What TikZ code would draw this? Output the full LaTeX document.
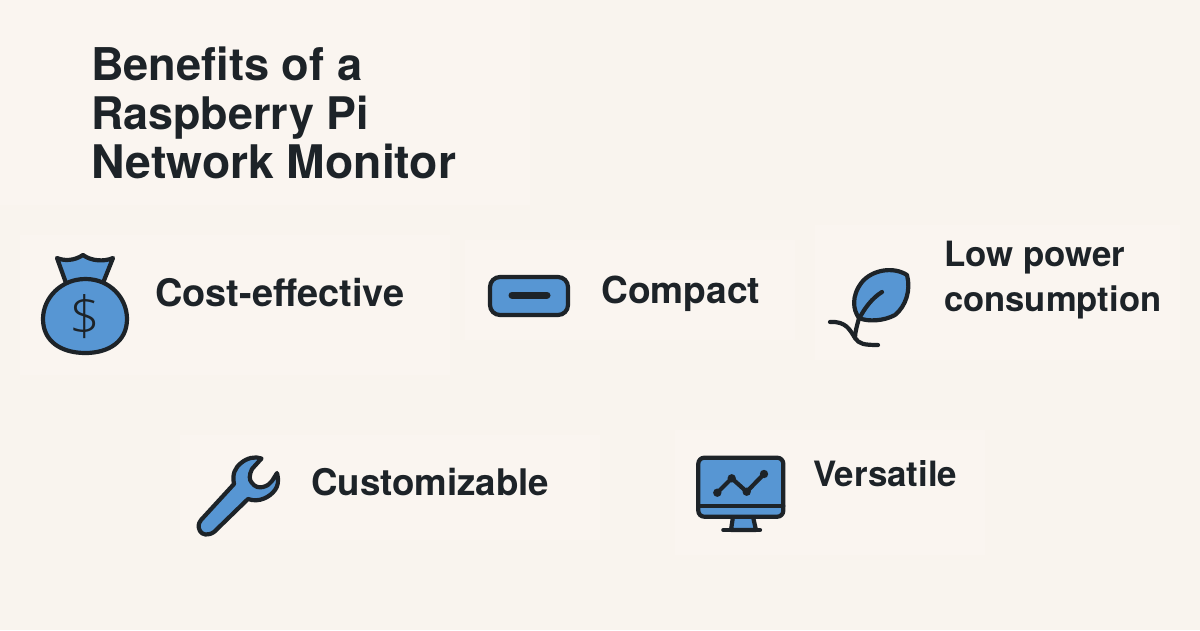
\documentclass[tikz,border=0pt]{standalone}
\usepackage{fontspec}
\setmainfont{TeX Gyre Heros}[BoldFont=* Bold]
\definecolor{bg}{HTML}{F9F4EE}
\definecolor{patch}{HTML}{FAF5F0}
\definecolor{ink}{HTML}{1D2328}
\definecolor{blue}{HTML}{5796D3}
\newcommand{\fitw}[2]{\resizebox{#1pt}{!}{\bfseries #2}}
\tikzset{
  titletext/.style={inner sep=0pt,anchor=base west,text=ink,font=\fontsize{46}{48}\selectfont},
  label/.style={inner sep=0pt,anchor=base west,text=ink,font=\fontsize{37}{44}\selectfont},
  icon/.style={draw=ink,fill=blue,line width=4.2pt,line join=round,line cap=round},
  stroke/.style={draw=ink,line width=4.2pt,line join=round,line cap=round},
}
\begin{document}
\begin{tikzpicture}[x=1pt,y=-1pt]
\useasboundingbox (0,0) rectangle (1200,630);
\fill[bg] (0,0) rectangle (1200,630);
% faint lighter patches
\fill[patch] (0,0) rectangle (530,205);
\fill[patch] (20,235) rectangle (450,375);
\fill[patch] (465,240) rectangle (795,340);
\fill[patch] (815,225) rectangle (1180,360);
\fill[patch] (180,435) rectangle (600,540);
\fill[patch] (675,430) rectangle (985,555);
% title
\node[titletext] (t1) at (91,80) {\fitw{271}{Benefits of a}};
\node[titletext] (t2) at (91,129) {\fitw{278}{Raspberry Pi}};
\node[titletext] (t3) at (91,178) {\fitw{365}{Network Monitor}};
% money bag
\path[icon] (57,258) .. controls (64,261) and (74,261) .. (83,255) .. controls (91,261) and (104,262) .. (113,258) -- (103,283) -- (66,283) -- cycle;
\path[icon] (85.5,279) .. controls (110,279) and (127,298) .. (127,319) .. controls (127,342) and (108,353) .. (85.5,353) .. controls (62,353) and (43,342) .. (43,319) .. controls (43,298) and (61,279) .. (85.5,279) -- cycle;
\node[inner sep=0pt,text=ink,font=\fontsize{54}{54}\selectfont\fontspec{Open Sans Light}] (dollar) at (85,317) {\$};
% compact
\path[icon,rounded corners=10pt] (490,277) rectangle (568,315);
\draw[draw=ink,line width=7pt,line cap=round] (512,295) -- (547,295);
% leaf
\path[icon] (859,318) .. controls (853,310) and (851,296) .. (862,282) .. controls (872,270) and (893,266) .. (907,275) .. controls (911,290) and (906,306) .. (895,315) .. controls (884,321) and (868,322) .. (859,318) -- cycle;
\path[stroke] (859,319) .. controls (864,309) and (872,298) .. (882,292);
\path[stroke] (859,318) .. controls (857,326) and (855,332) .. (855,338);
\path[stroke] (830,322) .. controls (846,321) and (850,330) .. (855,338) .. controls (859,344) and (864,345) .. (878,345);
% wrench
\path[icon] (201,520) -- (234,484) .. controls (232,474) and (235,468) .. (241,463) .. controls (247,458) and (255,456) .. (261.5,458.5) -- (252,469) .. controls (249,475) and (249,480) .. (252,483) .. controls (255,487) and (259,488) .. (263,487) .. controls (267,486) and (270,484) .. (272,481) -- (277,473) .. controls (279,481) and (278,486) .. (275,490) .. controls (270,497) and (259,503) .. (248,499) -- (214,532) .. controls (208,536) and (202,535) .. (200,531) .. controls (198,527) and (198,524) .. (201,520) -- cycle;
% monitor
\path[icon,fill=blue] (733,516.7) -- (731,530) -- (756,530) -- (753,516.7) -- cycle;
\path[stroke] (723.3,530) -- (760,530);
\path[icon,rounded corners=6pt] (698.3,457.7) rectangle (783.3,516.7);
\path[stroke] (698.3,505.7) -- (783.3,505.7);
\path[stroke] (717.3,492.7) -- (731.7,478.3) -- (746.7,491.7) -- (764,474);
\fill[ink] (717.3,492.7) circle (4.2) (731.7,478.3) circle (4.2) (746.7,491.7) circle (4.2) (764,474) circle (4.2);
% labels
\node[label] (a) at (155,306) {\fitw{249}{Cost-effective}};
\node[label] (b) at (601,303) {\fitw{159}{Compact}};
\node[label] (c1) at (944,266) {\fitw{181}{Low power}};
\node[label] (c2) at (944,311) {\fitw{217}{consumption}};
\node[label] (d) at (311,495) {\fitw{238}{Customizable}};
\node[label] (e) at (813,486) {\fitw{144}{Versatile}};
\end{tikzpicture}
\end{document}
